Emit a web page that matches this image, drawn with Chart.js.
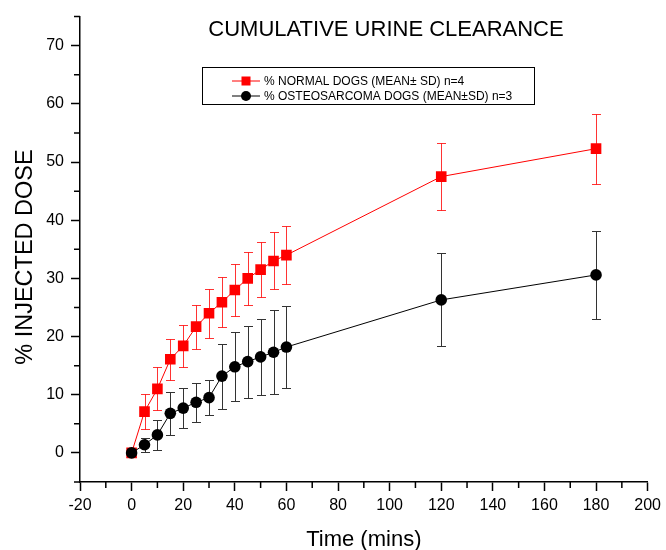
<!DOCTYPE html>
<html>
<head>
<meta charset="utf-8">
<script src="https://cdn.jsdelivr.net/npm/chart.js@4.4.1/dist/chart.umd.min.js"></script>
<style>
  html, body { margin: 0; padding: 0; background: #fff; }
  #wrap { width: 666px; height: 550px; }
</style>
</head>
<body>
<div id="wrap"><canvas id="clearanceChart" width="666" height="550"></canvas></div>
<script>
// Sampling times (mins)
const times = [0, 5, 10, 15, 20, 25, 30, 35, 40, 45, 50, 55, 60, 120, 180];

// % injected dose, normal dogs (n=4)
const normalMean = [0, 7.1, 11.0, 16.1, 18.4, 21.7, 24.0, 25.9, 28.0, 30.0, 31.5, 33.0, 34.0, 47.5, 52.3];
const normalSd = [0, 3.0, 3.7, 3.5, 3.6, 3.8, 4.2, 4.3, 4.4, 4.5, 4.7, 4.9, 5.0, 5.8, 6.0];

// % injected dose, osteosarcoma dogs (n=3)
const osteoMean = [0, 1.4, 3.1, 6.8, 7.7, 8.7, 9.5, 13.2, 14.8, 15.7, 16.5, 17.3, 18.2, 26.3, 30.6];
const osteoSd = [0, 1.2, 2.6, 3.7, 3.5, 3.4, 3.0, 5.6, 5.9, 6.2, 6.5, 7.2, 7.1, 8.0, 7.6];

const seriesLabels = ['% NORMAL DOGS (MEAN\u00B1 SD) n=4', '% OSTEOSARCOMA DOGS (MEAN\u00B1SD) n=3'];
const chartTitle = 'CUMULATIVE URINE CLEARANCE';
const xTitle = 'Time (mins)';
const yTitle = '% INJECTED DOSE';

const FONT = "'Liberation Sans', Arial, sans-serif";

function toPoints(xs, ys) {
    return xs.map((x, i) => ({ x: x, y: ys[i] }));
}

// vertical SD bars with caps, drawn underneath the series
const errorBars = {
    id: 'errorBars',
    beforeDatasetsDraw(chart) {
        const ctx = chart.ctx;
        const xs = chart.scales.x;
        const ys = chart.scales.y;
        chart.data.datasets.forEach(ds => {
            if (!ds.sd) return;
            ctx.save();
            ctx.strokeStyle = ds.errorColor;
            ctx.lineWidth = 1;
            ds.data.forEach((p, i) => {
                const sd = ds.sd[i];
                if (!sd) return;
                const x = Math.round(xs.getPixelForValue(p.x)) + 0.5;
                const top = Math.round(ys.getPixelForValue(p.y + sd)) + 0.5;
                const bot = Math.round(ys.getPixelForValue(p.y - sd)) + 0.5;
                ctx.beginPath();
                ctx.moveTo(x, top);
                ctx.lineTo(x, bot);
                ctx.moveTo(x - 4.5, top);
                ctx.lineTo(x + 4.5, top);
                ctx.moveTo(x - 4.5, bot);
                ctx.lineTo(x + 4.5, bot);
                ctx.stroke();
            });
            ctx.restore();
        });
    }
};

// short minor ticks between the labelled major ticks
const minorTicks = {
    id: 'minorTicks',
    afterDraw(chart) {
        const ctx = chart.ctx;
        const xs = chart.scales.x;
        const ys = chart.scales.y;
        const area = chart.chartArea;
        ctx.save();
        ctx.strokeStyle = '#000';
        ctx.lineWidth = 1.5;
        ctx.beginPath();
        xs.ticks.forEach(t => {
            if (t.value % 20 === 0) return;
            const x = xs.getPixelForValue(t.value);
            ctx.moveTo(x, area.bottom);
            ctx.lineTo(x, area.bottom + 6);
        });
        ys.ticks.forEach(t => {
            if (t.value % 10 === 0) return;
            const y = ys.getPixelForValue(t.value);
            ctx.moveTo(area.left, y);
            ctx.lineTo(area.left - 6, y);
        });
        ctx.stroke();
        ctx.restore();
    }
};

// title inside the plot, rotated y title and boxed legend
const titleAndLegend = {
    id: 'titleAndLegend',
    afterDraw(chart) {
        const ctx = chart.ctx;
        ctx.save();
        ctx.fillStyle = '#000';
        ctx.font = '22px ' + FONT;
        ctx.textAlign = 'center';
        ctx.textBaseline = 'middle';
        ctx.fillText(chartTitle, 386, 30);

        ctx.save();
        ctx.translate(26, 257);
        ctx.rotate(-Math.PI / 2);
        ctx.font = '23.5px ' + FONT;
        ctx.fillText(yTitle, 0, 0);
        ctx.restore();

        // legend box
        ctx.strokeStyle = '#000';
        ctx.lineWidth = 1;
        ctx.strokeRect(202.5, 67.5, 332, 37);
        ctx.font = '12px ' + FONT;
        ctx.textAlign = 'left';
        chart.data.datasets.forEach((ds, i) => {
            const y = 81 + i * 15;
            ctx.strokeStyle = ds.borderColor;
            ctx.lineWidth = 1;
            ctx.beginPath();
            ctx.moveTo(232, y);
            ctx.lineTo(260, y);
            ctx.stroke();
            ctx.fillStyle = ds.pointBackgroundColor;
            if (ds.pointStyle === 'rect') {
                ctx.fillRect(241.5, y - 4.5, 9, 9);
            } else {
                ctx.beginPath();
                ctx.arc(246, y, 5, 0, Math.PI * 2);
                ctx.fill();
            }
            ctx.fillStyle = '#000';
            ctx.fillText(ds.label, 264, y + 1);
        });
        ctx.restore();
    }
};

document.addEventListener('DOMContentLoaded', function() {
    const ctx = document.getElementById('clearanceChart').getContext('2d');
    new Chart(ctx, {
        type: 'line',
        data: {
            datasets: [{
                label: seriesLabels[0],
                data: toPoints(times, normalMean),
                sd: normalSd,
                errorColor: 'rgba(255, 0, 0, 0.8)',
                borderColor: '#ff0000',
                backgroundColor: '#ff0000',
                pointBackgroundColor: '#ff0000',
                pointBorderColor: '#ff0000',
                pointStyle: 'rect',
                pointRadius: 7.5,
                borderWidth: 1,
                pointBorderWidth: 0,
                tension: 0,
                order: 1
            }, {
                label: seriesLabels[1],
                data: toPoints(times, osteoMean),
                sd: osteoSd,
                errorColor: '#333333',
                borderColor: '#000000',
                backgroundColor: '#000000',
                pointBackgroundColor: '#000000',
                pointBorderColor: '#000000',
                pointStyle: 'circle',
                pointRadius: 5.8,
                borderWidth: 1,
                pointBorderWidth: 0,
                tension: 0,
                order: 0
            }]
        },
        options: {
            responsive: false,
            animation: false,
            events: [],
            layout: {
                padding: { top: 15, right: 15, left: 0, bottom: 0 }
            },
            plugins: {
                legend: { display: false },
                tooltip: { enabled: false }
            },
            scales: {
                x: {
                    type: 'linear',
                    min: -20,
                    max: 200,
                    afterFit: function(scale) { scale.height = 68; },
                    grid: {
                        drawOnChartArea: false,
                        tickLength: 9,
                        tickWidth: 1.5,
                        tickColor: c => (c.tick && c.tick.value % 20 === 0) ? '#000' : 'rgba(0,0,0,0)'
                    },
                    border: { display: true, color: '#000', width: 1.5 },
                    ticks: {
                        stepSize: 10,
                        autoSkip: false,
                        maxRotation: 0,
                        padding: 5,
                        color: '#000',
                        font: { family: FONT, size: 16 },
                        callback: v => (v % 20 === 0 ? v : '')
                    },
                    title: {
                        display: true,
                        text: xTitle,
                        color: '#000',
                        font: { family: FONT, size: 22 },
                        padding: { top: 0, bottom: -3 }
                    }
                },
                y: {
                    min: -5,
                    max: 75,
                    afterFit: function(scale) { scale.width = 80; },
                    grid: {
                        drawOnChartArea: false,
                        tickLength: 9,
                        tickWidth: 1.5,
                        tickColor: c => (c.tick && c.tick.value % 10 === 0) ? '#000' : 'rgba(0,0,0,0)'
                    },
                    border: { display: true, color: '#000', width: 1.5 },
                    ticks: {
                        stepSize: 5,
                        autoSkip: false,
                        padding: 7,
                        color: '#000',
                        font: { family: FONT, size: 16 },
                        callback: v => (v % 10 === 0 ? v : '')
                    }
                }
            }
        },
        plugins: [errorBars, minorTicks, titleAndLegend]
    });
});
</script>
</body>
</html>
